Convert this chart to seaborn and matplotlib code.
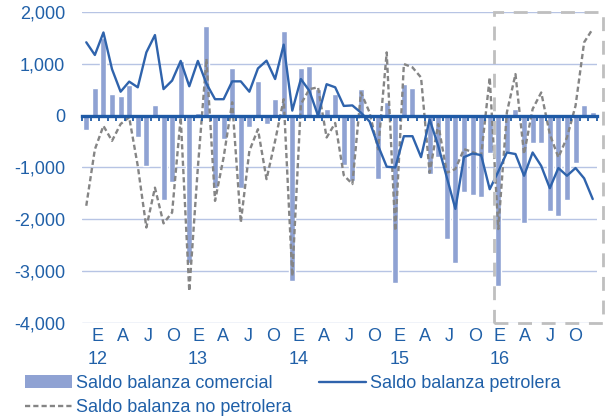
# Saldo de la balanza comercial, petrolera y no petrolera (mensual 2012-2016)
import numpy as np
import pandas as pd
import matplotlib
matplotlib.use('Agg')
import matplotlib.pyplot as plt
from matplotlib.patches import Patch, Rectangle
from matplotlib.lines import Line2D
from matplotlib.ticker import NullFormatter
import seaborn as sns

sns.set_style("white")
plt.rcParams['font.family'] = ['Liberation Sans', 'DejaVu Sans']

# Datos (millones de dólares), enero 2012 - diciembre 2016
meses = list(range(60))
comercial = [-270, 530, 1500, 420, 375, 590, -420, -970, 210, -1630, -1280, 1060,
             -2840, 60, 1740, -1390, -450, 920, -1400, -210, 680, -160, 320, 1630,
             -3190, 930, 970, 520, 130, 420, -960, -1260, 520, -50, -1230, 270,
             -3240, 610, 530, 30, -1130, -800, -2390, -2840, -1470, -1535, -1580, -720,
             -3290, -710, 130, -2080, -520, -530, -1840, -1940, -1630, -920, 210, 65]
petrolera = [1420, 1175, 1610, 900, 465, 660, 550, 1225, 1560, 515, 680, 1060,
             570, 1060, 620, 320, 320, 665, 665, 465, 915, 1065, 710, 1375,
             100, 710, 480, 0, 610, 550, 190, 200, 60, -110, -580, -985,
             -1000, -395, -395, -800, -70, -580, -1190, -1800, -800, -730, -760, -1420,
             -1080, -710, -740, -1160, -710, -970, -1400, -1010, -1160, -1010, -1210, -1610]
no_petrolera = [-1740, -650, -195, -485, -160, -30, -970, -2160, -1390, -2080, -1870, -30,
                -3390, -1000, 1100, -1645, -805, 260, -2065, -680, -260, -1225, -485, 320,
                -3100, 225, 515, 550, -420, -140, -1150, -1320, 450, 65, -650, 1225,
                -2225, 1000, 935, 740, -1100, -160, -1100, -1030, -645, -700, -775, 740,
                -2190, 65, 805, -740, 130, 450, -355, -805, -420, 195, 1420, 1680]

letras_mes = ['E', 'A', 'J', 'O']
anios = ['12', '13', '14', '15', '16']

df = pd.DataFrame({'mes': meses, 'comercial': comercial,
                   'petrolera': petrolera, 'no_petrolera': no_petrolera})

# Colores
c_barra = '#8FA2D3'
c_petro = '#2F63AC'
c_nopetro = '#858585'
c_eje = '#1F5AA6'
c_texto = '#2060A8'
c_grid = '#B7C4E4'
font_size = 13

fig = plt.figure(figsize=(6.05, 4.18), dpi=100)
ax = fig.add_axes([0.1355, 0.228, 0.8513, 0.7426])

sns.barplot(data=df, x='mes', y='comercial', native_scale=True, width=0.7,
            color=c_barra, saturation=1, errorbar=None, ax=ax, zorder=2)
sns.lineplot(data=df, x='mes', y='no_petrolera', color=c_nopetro, lw=1.7,
             linestyle=(0, (2.2, 1.3)), ax=ax, zorder=3)
sns.lineplot(data=df, x='mes', y='petrolera', color=c_petro, lw=1.7, ax=ax, zorder=4)

ax.set_xlim(-0.5, 59.5)
ax.set_ylim(-4000, 2000)
ax.set_yticks(range(-4000, 2001, 1000))
ax.set_yticklabels(['{:,}'.format(v) for v in range(-4000, 2001, 1000)])
ax.yaxis.grid(True, color=c_grid, lw=1)
ax.set_axisbelow(True)
for s in ax.spines.values():
    s.set_visible(False)
ax.set_xlabel('')
ax.set_ylabel('')

# Etiquetas del eje de categorias (mes y año)
tick_pos = [1.3 + 0.977 * m for m in range(0, 60, 3)]
tick_lab = []
for k in range(20):
    letra = letras_mes[k % 4]
    if k % 4 == 0:
        letra = letra + '\n' + anios[k // 4]
    tick_lab.append(letra)
ax.set_xticks(tick_pos)
ax.set_xticklabels(tick_lab, linespacing=1.45)
ax.tick_params(axis='x', length=0, pad=4, labelsize=font_size, labelcolor=c_texto)
ax.tick_params(axis='y', length=0, pad=12, labelsize=font_size, labelcolor=c_texto)
for t in ax.get_xticklabels():
    t.set_verticalalignment('top')

# Linea del cero con marcas por mes
eje0 = ax.secondary_xaxis(4000 / 6000)
for sp in eje0.spines.values():
    sp.set_color(c_eje)
    sp.set_linewidth(2.4)
eje0.set_xticks(np.arange(-0.5, 60, 1))
eje0.xaxis.set_major_formatter(NullFormatter())
eje0.tick_params(axis='x', direction='in', length=3.5, width=1.3, color=c_eje,
                 labeltop=False, labelbottom=False)
eje0.set_zorder(6)

# Recuadro 2016
rect = Rectangle((47.5, -4000), 12.7, 6000, fill=False, edgecolor='#BFBFBF',
                 lw=2, ls=(0, (5, 3.5)), clip_on=False, zorder=5)
ax.add_patch(rect)

handles = [Patch(facecolor=c_barra, edgecolor='none'),
           Line2D([], [], color=c_nopetro, lw=1.7, ls=(0, (2.2, 1.3))),
           Line2D([], [], color=c_petro, lw=1.7)]
labels = ['Saldo balanza comercial', 'Saldo balanza no petrolera',
          'Saldo balanza petrolera']
leg = fig.legend(handles, labels, ncol=2, loc='upper left',
                 bbox_to_anchor=(0.041, 0.103), frameon=False, fontsize=font_size,
                 handlelength=2.6, handletextpad=0.25, columnspacing=1.5,
                 labelspacing=0.4, borderpad=0, borderaxespad=0)
for t in leg.get_texts():
    t.set_color(c_texto)

fig.savefig('out.png', dpi=100)
